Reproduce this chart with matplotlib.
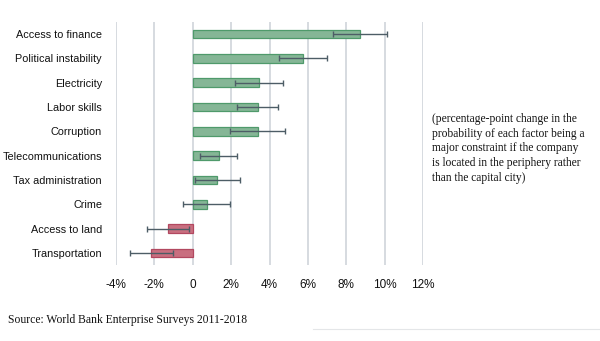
import matplotlib.pyplot as plt
import numpy as np

# constraint estimates (percentage points) and error margins
factors = ['Access to finance', 'Political instability', 'Electricity', 'Labor skills',
           'Corruption', 'Telecommunications', 'Tax administration', 'Crime',
           'Access to land', 'Transportation']
effects = [8.7, 5.75, 3.45, 3.38, 3.38, 1.35, 1.27, 0.72, -1.3, -2.15]
errors = [1.4, 1.23, 1.24, 1.08, 1.43, 0.95, 1.17, 1.24, 1.08, 1.1]
xticks = [-4, -2, 0, 2, 4, 6, 8, 10, 12]
xticklabels = ['-4%', '-2%', '0', '2%', '4%', '6%', '8%', '10%', '12%']

fig = plt.figure(figsize=(6, 3.41), dpi=100)
ax = fig.add_axes([116 / 600, 1 - 265 / 341, (423 - 116) / 600, (265 - 22) / 341])

pos = np.arange(len(factors))
face = ['#85b696' if v >= 0 else '#c96f80' for v in effects]
edge = ['#4f9a6b' if v >= 0 else '#b24860' for v in effects]

ax.barh(pos, effects, height=0.35, color=face, edgecolor=edge, linewidth=0.9, zorder=3)
ax.errorbar(effects, pos, xerr=errors, fmt='none', ecolor='#4d5d66', elinewidth=1,
            capsize=2, capthick=1, zorder=4)

ax.set_xlim(-4, 12)
ax.set_ylim(len(factors) - 0.5, -0.5)
ax.set_xticks(xticks)
ax.set_xticklabels(xticklabels, fontsize=8.5, family='Liberation Sans')
ax.set_yticks(pos)
ax.set_yticklabels(factors, fontsize=7.8, family='Liberation Sans')
ax.tick_params(axis='both', length=0, colors='#111111')
ax.tick_params(axis='x', pad=10)
ax.tick_params(axis='y', pad=10)
ax.grid(axis='x', color='#d3d8dd', linewidth=1.3, zorder=0)
ax.grid(axis='y', visible=False)
for s in ax.spines.values():
    s.set_visible(False)

fig.text(432 / 600, 1 - 113 / 341,
         '(percentage-point change in the\nprobability of each factor being a\n'
         'major constraint if the company\nis located in the periphery rather\n'
         'than the capital city)',
         fontsize=8.3, family='Liberation Serif', va='top', ha='left',
         linespacing=1.3, color='#111111')
fig.text(8 / 600, 1 - 320 / 341, 'Source: World Bank Enterprise Surveys 2011-2018',
         fontsize=8.4, family='Liberation Serif', va='center', ha='left', color='#111111')

# faint page rule at the bottom right
fig.add_artist(plt.Line2D([313 / 600, 1], [1 - 329 / 341] * 2, color='#e4e6e8', linewidth=0.8))

fig.savefig('out.png', dpi=100)
